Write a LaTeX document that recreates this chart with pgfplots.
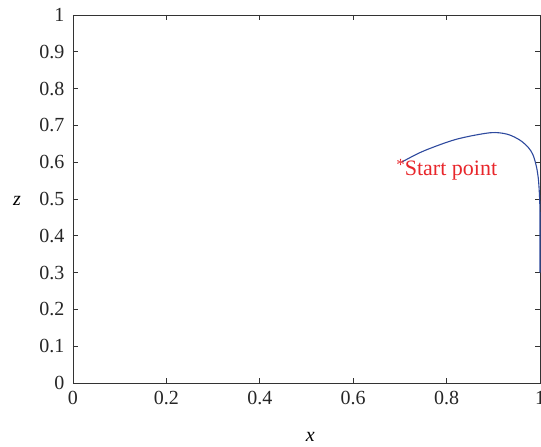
\documentclass[border=0pt]{standalone}
\usepackage{pgfplots}
\pgfplotsset{compat=1.18}
\usepackage{fontspec}
\setmainfont{Liberation Serif}
\definecolor{curveblue}{HTML}{2E4A9E}
\definecolor{txtred}{HTML}{E8262B}
\definecolor{axgray}{HTML}{333333}
\begin{document}
\begin{tikzpicture}
\begin{axis}[name=ax,
  scale only axis, width=467pt, height=368pt,
  xmin=0, xmax=1, ymin=0, ymax=1,
  xtick={0,0.2,0.4,0.6,0.8,1},
  ytick={0,0.1,0.2,0.3,0.4,0.5,0.6,0.7,0.8,0.9,1},
  tick align=inside, major tick length=5pt,
  axis line style={axgray, line width=0.9pt},
  tick style={axgray, line width=0.9pt},
  /pgf/number format/assume math mode=true,
  ticklabel style={font=\fontsize{20}{22}\selectfont, text=black!85},
  xticklabel style={yshift=-5pt},
  yticklabel style={xshift=-5pt},
  xlabel={\textit{x}}, ylabel={\textit{z}},
  label style={font=\fontsize{20}{22}\selectfont},
  xlabel style={at={(axis description cs:0.508,-0.16)}, anchor=base},
  ylabel style={rotate=-90, at={(axis description cs:-0.12,0.495)}, anchor=center},
  clip=false,
]
\addplot[curveblue, line width=1.1pt, smooth] coordinates {
(0.705,0.601) (0.75,0.630) (0.82,0.662) (0.893,0.680) (0.930,0.676)
(0.957,0.660) (0.975,0.640) (0.985,0.620) (0.992,0.590) (0.996,0.560)
(0.998,0.530) (0.9995,0.490) (1.0,0.45) (1.0,0.40) (1.0,0.35) (1.0,0.30)
};
\node[anchor=base west, inner sep=0pt, text=txtred, font=\fontsize{22}{24}\selectfont]
  at (axis cs:0.692,0.5625) {\raisebox{0.5ex}{\fontsize{17}{19}\selectfont *}Start point};
\end{axis}
\pgfresetboundingbox
\useasboundingbox ([xshift=-73pt,yshift=-64pt]ax.south west) rectangle ([xshift=1pt,yshift=15pt]ax.north east);
\end{tikzpicture}
\end{document}
